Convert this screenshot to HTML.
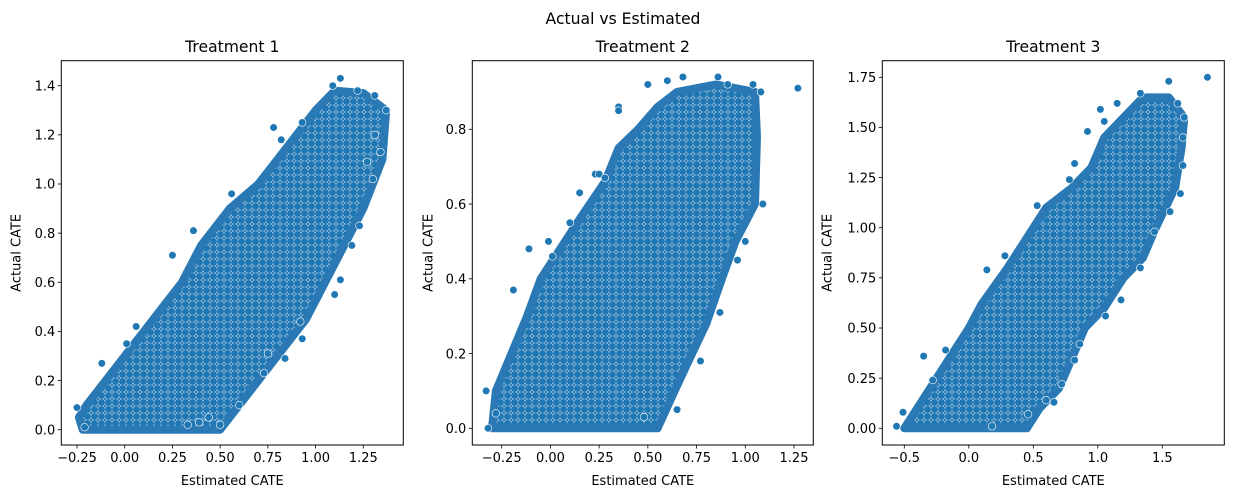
<!DOCTYPE html>
<html><head><meta charset="utf-8"><style>
body{margin:0;background:#fff;}
svg{display:block;font-family:"DejaVu Sans","Liberation Sans",sans-serif;}
</style></head><body>
<svg id="fig" width="1233" height="498" viewBox="0 0 1233 498" xmlns="http://www.w3.org/2000/svg">
<defs>
<pattern id="dots" width="7" height="7" patternUnits="userSpaceOnUse">
<rect width="7" height="7" fill="#2c7ab5"/>
<circle cx="3.5" cy="3.5" r="3.7" fill="#1f77b4" stroke="#d6e6f2" stroke-width="0.5"/>
</pattern>
</defs>
<rect width="1233" height="498" fill="#fff"/>
<text x="623" y="24" font-size="15.6" text-anchor="middle" fill="#000">Actual vs Estimated</text>
</svg>
<script>
// ---- Data ----
const titles = ["Treatment 1","Treatment 2","Treatment 3"];
const xTicks1 = [-0.25,0,0.25,0.5,0.75,1.0,1.25];
const yTicks1 = [0,0.2,0.4,0.6,0.8,1.0,1.2,1.4];
const xTicks2 = [-0.25,0,0.25,0.5,0.75,1.0,1.25];
const yTicks2 = [0,0.2,0.4,0.6,0.8];
const xTicks3 = [-0.5,0,0.5,1.0,1.5];
const yTicks3 = [0,0.25,0.5,0.75,1.0,1.25,1.5,1.75];
const xLabels1 = ["\u22120.25","0.00","0.25","0.50","0.75","1.00","1.25"];
const yLabels1 = ["0.0","0.2","0.4","0.6","0.8","1.0","1.2","1.4"];
const xLabels2 = ["\u22120.25","0.00","0.25","0.50","0.75","1.00","1.25"];
const yLabels2 = ["0.0","0.2","0.4","0.6","0.8"];
const xLabels3 = ["\u22120.5","0.0","0.5","1.0","1.5"];
const yLabels3 = ["0.00","0.25","0.50","0.75","1.00","1.25","1.50","1.75"];
// dense-cloud outlines (estimated, actual)
const cloudX1 = [-0.22,0.5,0.6,0.75,0.85,0.95,1.05,1.15,1.25,1.35,1.37,1.25,1.1,1.0,0.9,0.8,0.7,0.55,0.4,0.3,0.2,0.1,0.0,-0.1,-0.2,-0.24];
const cloudY1 = [0.0,0.0,0.1,0.25,0.35,0.45,0.6,0.75,0.9,1.1,1.3,1.37,1.38,1.3,1.2,1.1,1.0,0.9,0.75,0.6,0.5,0.4,0.3,0.2,0.1,0.05];
const cloudX2 = [-0.3,0.55,0.62,0.7,0.8,0.88,0.95,1.05,1.06,1.05,0.85,0.65,0.55,0.45,0.35,0.28,0.15,0.05,-0.05,-0.12,-0.2,-0.28];
const cloudY2 = [0.0,0.0,0.08,0.17,0.28,0.4,0.5,0.6,0.78,0.9,0.92,0.9,0.86,0.8,0.75,0.66,0.56,0.48,0.4,0.3,0.2,0.1];
const cloudX3 = [-0.5,0.45,0.55,0.7,0.8,0.9,1.05,1.2,1.35,1.45,1.6,1.65,1.67,1.55,1.35,1.2,1.05,0.95,0.8,0.6,0.45,0.3,0.1,0.0,-0.15,-0.3,-0.45];
const cloudY3 = [0.0,0.0,0.1,0.2,0.35,0.5,0.6,0.75,0.85,1.0,1.2,1.4,1.55,1.65,1.65,1.55,1.45,1.3,1.2,1.1,0.95,0.8,0.62,0.5,0.35,0.2,0.05];
// individual sparse points
const ptsX1 = [-0.25,-0.12,0.01,0.06,0.25,0.36,0.56,0.78,0.82,0.93,1.13,1.09,1.22,1.31,1.37,1.30,1.23,1.19,1.10,1.13,0.93,0.84,0.73,0.60,0.50,0.33,0.44,-0.21,0.75,0.92,0.39,1.34,1.31,1.27];
const ptsY1 = [0.09,0.27,0.35,0.42,0.71,0.81,0.96,1.23,1.18,1.25,1.43,1.40,1.38,1.36,1.30,1.02,0.83,0.75,0.55,0.61,0.37,0.29,0.23,0.10,0.02,0.02,0.05,0.01,0.31,0.44,0.03,1.13,1.20,1.09];
const ptsX2 = [-0.32,-0.33,-0.28,-0.19,-0.11,-0.01,0.01,0.10,0.15,0.23,0.35,0.35,0.50,0.60,0.68,0.86,0.91,1.04,1.08,1.27,1.09,1.00,0.96,0.87,0.77,0.65,0.48,0.25,0.28];
const ptsY2 = [0.00,0.10,0.04,0.37,0.48,0.50,0.46,0.55,0.63,0.68,0.86,0.85,0.92,0.93,0.94,0.94,0.92,0.92,0.90,0.91,0.60,0.50,0.45,0.31,0.18,0.05,0.03,0.68,0.67];
const ptsX3 = [-0.56,-0.51,-0.35,-0.18,-0.28,0.14,0.28,0.53,0.78,0.82,0.92,1.02,1.05,1.15,1.33,1.55,1.85,1.62,1.67,1.66,1.66,1.64,1.56,1.44,1.33,1.18,1.06,0.86,0.82,0.72,0.66,0.60,0.46,0.18];
const ptsY3 = [0.01,0.08,0.36,0.39,0.24,0.79,0.86,1.11,1.24,1.32,1.48,1.59,1.53,1.62,1.67,1.73,1.75,1.62,1.55,1.45,1.31,1.17,1.08,0.98,0.80,0.64,0.56,0.42,0.34,0.22,0.13,0.14,0.07,0.01];

const panels = [
 {title:titles[0], L:61.3,R:403.3,T:60.7,B:445, x0v:-0.25,x0p:77,x1v:1.25,x1p:363.3, y0v:0,y0p:429.7,y1v:1.4,y1p:85.7,
  xt:xTicks1,xl:xLabels1,yt:yTicks1,yl:yLabels1,cx:cloudX1,cy:cloudY1,px:ptsX1,py:ptsY1},
 {title:titles[1], L:472.3,R:813.3,T:60.7,B:445, x0v:-0.25,x0p:501.7,x1v:1.25,x1p:794, y0v:0,y0p:428.3,y1v:0.8,y1p:129.3,
  xt:xTicks2,xl:xLabels2,yt:yTicks2,yl:yLabels2,cx:cloudX2,cy:cloudY2,px:ptsX2,py:ptsY2},
 {title:titles[2], L:882.3,R:1224.3,T:60.7,B:445, x0v:-0.5,x0p:904.3,x1v:1.5,x1p:1162.3, y0v:0,y0p:428.3,y1v:1.75,y1p:77.3,
  xt:xTicks3,xl:xLabels3,yt:yTicks3,yl:yLabels3,cx:cloudX3,cy:cloudY3,px:ptsX3,py:ptsY3}
];
const NS="http://www.w3.org/2000/svg";
const svg=document.getElementById('fig');
function mk(tag,attrs,parent){const e=document.createElementNS(NS,tag);for(const k in attrs)e.setAttribute(k,attrs[k]);(parent||svg).appendChild(e);return e;}
panels.forEach((p,i)=>{
  const n=i+1;
  const xs=v=>p.x0p+(v-p.x0v)*(p.x1p-p.x0p)/(p.x1v-p.x0v);
  const ys=v=>p.y0p+(v-p.y0v)*(p.y1p-p.y0p)/(p.y1v-p.y0v);
  const g=mk('g',{});
  
  
  const cloud=mk('polygon',{points:p.cx.map((x,k)=>xs(x)+','+ys(p.cy[k])).join(' '),fill:'url(#dots)',stroke:'#2a79b4','stroke-width':8,'stroke-linejoin':'round'},g);
  
  
  p.px.forEach((x,k)=>{
    const c=mk('circle',{cx:xs(x),cy:ys(p.py[k]),r:3.8,fill:'#1f77b4',stroke:'#fff','stroke-width':0.6},g);
    
    
  });
  const fr=mk('rect',{x:p.L,y:p.T,width:p.R-p.L,height:p.B-p.T,fill:'none',stroke:'#000','stroke-width':1},g);
  
  
  p.xt.forEach((v,k)=>{
    const X=xs(v);
    mk('line',{x1:X,x2:X,y1:p.B,y2:p.B+3.5,stroke:'#000','stroke-width':0.8},g);
    const t=mk('text',{x:X,y:p.B+17,'font-size':13,'text-anchor':'middle',fill:'#000'},g);
    t.textContent=p.xl[k];
    
    
  });
  p.yt.forEach((v,k)=>{
    const Y=ys(v);
    mk('line',{x1:p.L-3.5,x2:p.L,y1:Y,y2:Y,stroke:'#000','stroke-width':0.8},g);
    const t=mk('text',{x:p.L-6,y:Y+4.7,'font-size':13,'text-anchor':'end',fill:'#000'},g);
    t.textContent=p.yl[k];
    
    
  });
  const tt=mk('text',{x:(p.L+p.R)/2,y:52,'font-size':15.6,'text-anchor':'middle',fill:'#000'},g);
  tt.textContent=p.title;
  
  
  const xl=mk('text',{x:(p.L+p.R)/2,y:485,'font-size':13,'text-anchor':'middle',fill:'#000'},g);
  xl.textContent='Estimated CATE';
  
  
  const yx=p.L-(i===1?40:(i===0?41:51));
  const yl=mk('text',{x:yx,y:(p.T+p.B)/2,'font-size':13,'text-anchor':'middle',fill:'#000',transform:'rotate(-90 '+yx+' '+(p.T+p.B)/2+')'},g);
  yl.textContent='Actual CATE';
  
  
});
</script>
</body></html>
